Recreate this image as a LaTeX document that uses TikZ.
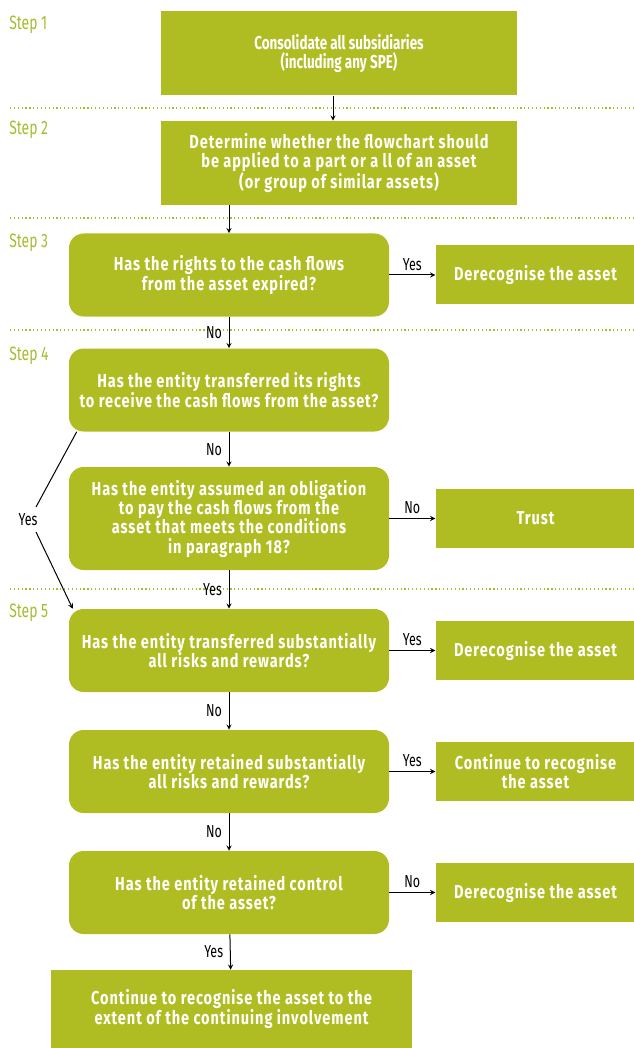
\documentclass[tikz,border=0pt]{standalone}
\usepackage{fontspec}
\setmainfont{Fira Sans}[FakeStretch=0.72]
\newfontfamily\spacedfont{Fira Sans}[FakeStretch=0.78, LetterSpace=5]
\usetikzlibrary{positioning, arrows.meta}
\definecolor{ifrs_green}{HTML}{AFBD22}
\definecolor{ifrs_step}{HTML}{A9BA30}
\tikzstyle{arrow} = [line width=0.75pt,->,>=stealth]
\tikzstyle{box} = [rectangle, fill=ifrs_green, text=white, font=\spacedfont\bfseries\fontsize{14}{14.5}\selectfont, align=center, inner sep=0pt]
\tikzstyle{question} = [box, rounded corners=11pt, minimum width=240pt, minimum height=62.25pt]
\tikzstyle{answer} = [box, minimum width=150pt, minimum height=44.25pt]
\tikzstyle{choice} = [font=\fontsize{13}{15}\selectfont, inner xsep=5pt, inner ysep=3pt]
\tikzstyle{step_label} = [anchor=west, text=ifrs_step, font=\fontsize{14.5}{16}\selectfont, inner sep=0pt]

\begin{document}
\begin{tikzpicture}[x=0.75pt, y=-0.75pt]
        \useasboundingbox (0,0) rectangle (634,1048);

        % step bands
        \foreach \y in {108,218,330,589}
            \draw[ifrs_step, dotted, line width=0.9pt] (10,\y) -- (634,\y);
        \foreach \n/\y in {1/25,2/130,3/243,4/356,5/613}
            \node (step\n) [step_label] at (9,\y) {Step \n};

        \node (b1) [box, font=\rmfamily\bfseries\fontsize{14}{14.25}\selectfont, minimum width=267pt, minimum height=63pt] at (339,53.5) {Consolidate all subsidiaries\\(including any SPE)};
        \node (b2) [box, minimum width=267pt, minimum height=63pt] at (339,163) {Determine whether the flowchart should\\be applied to a part or a ll of an asset\\(or group of similar assets)};
        \node (q3) [question] at (229,275) {Has the rights to the cash flows\\from the asset expired?};
        \node (q4) [question] at (229,390) {Has the entity transferred its rights\\to receive the cash flows from the asset?};
        \node (q5) [question, minimum height=77.25pt] at (229,518.5) {Has the entity assumed an obligation\\to pay the cash flows from the\\asset that meets the conditions\\in paragraph 18?};
        \node (q6) [question] at (229,650.5) {Has the entity transferred substantially\\all risks and rewards?};
        \node (q7) [question] at (229,771.5) {Has the entity retained substantially\\all risks and rewards?};
        \node (q8) [question] at (229,892.5) {Has the entity retained control\\of the asset?};
        \node (b9) [box, minimum width=270.75pt, minimum height=58.5pt] at (231.5,1009) {Continue to recognise the asset to the\\extent of the continuing involvement};

        \node (a3) [answer, right=34.5pt of q3] {Derecognise the asset};
        \node (a5) [answer, right=34.5pt of q5] {Trust};
        \node (a6) [answer, right=34.5pt of q6] {Derecognise the asset};
        \node (a7) [answer, right=34.5pt of q7] {Continue to recognise\\the asset};
        \node (a8) [answer, right=34.5pt of q8] {Derecognise the asset};

        \draw [arrow] ([xshift=-4.5pt]b1.south) -- ([xshift=-4.5pt]b2.north);
        \draw [arrow] (b2.south -| q3.north) -- (q3.north);
        \draw [arrow] (q3) -- node[choice, left] {No} (q4);
        \draw [arrow] (q4) -- node[choice, left] {No} (q5);
        \draw [arrow] (q5) -- node[choice, left] {Yes} (q6);
        \draw [arrow] (q6) -- node[choice, left] {No} (q7);
        \draw [arrow] (q7) -- node[choice, left] {No} (q8);
        \draw [arrow] (q8) -- node[choice, left] {Yes} (b9);

        \draw [arrow] (q3) -- node[choice, above] {Yes} (a3);
        \draw [arrow] (q5) -- node[choice, above] {No} (a5);
        \draw [arrow] (q6) -- node[choice, above] {Yes} (a6);
        \draw [arrow] (q7) -- node[choice, above] {Yes} (a7);
        \draw [arrow] (q8) -- node[choice, above] {No} (a8);

        % yes branch round q5
        \node (yes_lbl) [choice] at (28,520) {Yes};
        \coordinate (yes_top) at (36,507);
        \coordinate (yes_bot) at (36,532);
        \draw [line width=0.75pt] ([xshift=6pt]q4.south west) -- (yes_top);
        \draw [arrow] (yes_bot) -- ([xshift=3pt]q6.north west);
    \end{tikzpicture}
\end{document}
